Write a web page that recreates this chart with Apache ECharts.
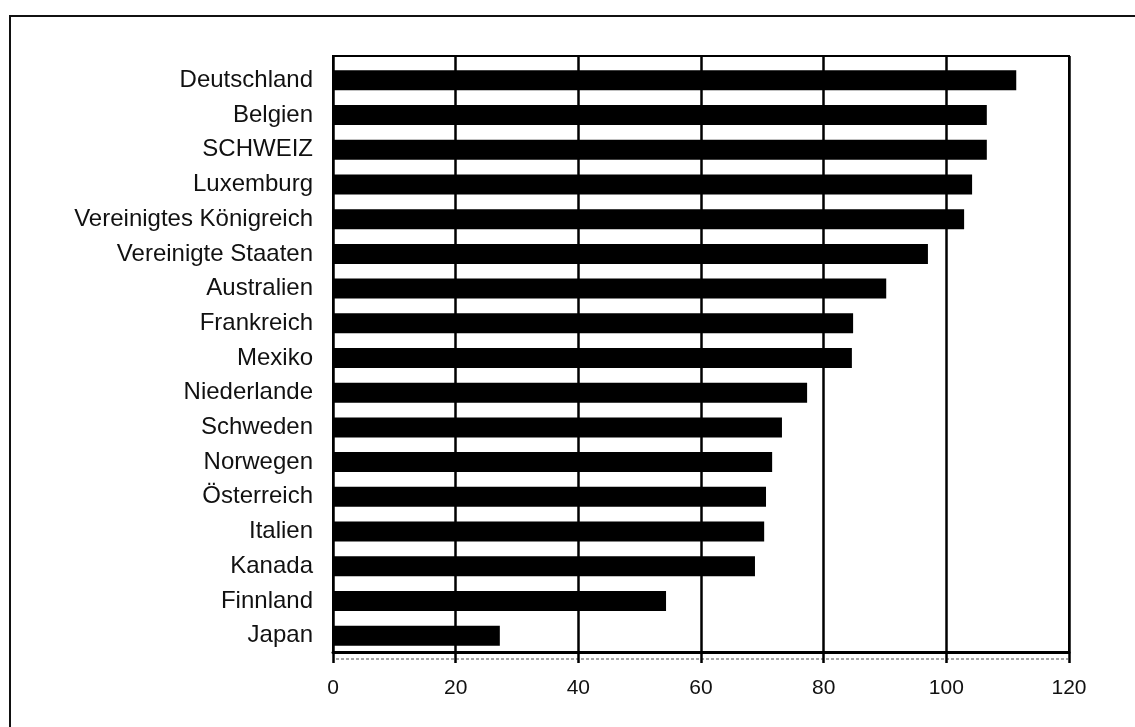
<!DOCTYPE html>
<html>
<head>
<meta charset="utf-8">
<script src="https://cdn.jsdelivr.net/npm/echarts@6/dist/echarts.min.js"></script>
<style>
  html, body { margin: 0; padding: 0; background: #fff; }
  #chart { width: 1135px; height: 727px; }
</style>
</head>
<body>
<div id="chart"></div>
<script>
// Countries, top to bottom
const categories = [
  'Deutschland', 'Belgien', 'SCHWEIZ', 'Luxemburg', 'Vereinigtes Königreich',
  'Vereinigte Staaten', 'Australien', 'Frankreich', 'Mexiko', 'Niederlande',
  'Schweden', 'Norwegen', 'Österreich', 'Italien', 'Kanada', 'Finnland', 'Japan'
];
// Index values per country
const values = [
  111.4, 106.6, 106.6, 104.2, 102.9,
  97.0, 90.2, 84.8, 84.6, 77.3,
  73.2, 71.6, 70.6, 70.3, 68.8, 54.3, 27.2
];
// Value axis range and tick step
const xMin = 0;
const xMax = 120;
const xStep = 20;

const FONT = '"Liberation Sans", Arial, sans-serif';

const chart = echarts.init(document.getElementById('chart'), null, { renderer: 'canvas' });

chart.setOption({
  animation: false,
  backgroundColor: '#ffffff',
  textStyle: { fontFamily: FONT },
  graphic: [
    // outer frame around the whole figure
    {
      type: 'rect',
      shape: { x: 10, y: 16, width: 1140, height: 800 },
      style: { fill: 'none', stroke: '#111', lineWidth: 2 },
      silent: true
    },
    // faint dotted rule just under the value axis
    {
      type: 'line',
      shape: { x1: 336, y1: 659, x2: 1068, y2: 659 },
      style: { stroke: '#8a8a8a', lineWidth: 1.5, lineDash: [3, 2] },
      silent: true
    }
  ],
  grid: [
    // plot frame with vertical grid lines
    { left: 333, right: 66, top: 56, bottom: 75, show: true, borderColor: '#000', borderWidth: 2 },
    // bar area
    { left: 333, right: 66, top: 63, bottom: 74 }
  ],
  xAxis: [
    {
      gridIndex: 0,
      type: 'value',
      min: xMin, max: xMax, interval: xStep,
      axisLine: { show: true, lineStyle: { color: '#000', width: 3 } },
      axisTick: { show: true, length: 11, lineStyle: { color: '#000', width: 2.5 } },
      splitLine: { show: true, lineStyle: { color: '#000', width: 2.5 } },
      axisLabel: { color: '#111', fontSize: 21, fontFamily: FONT, margin: 26 }
    },
    {
      gridIndex: 1,
      type: 'value',
      min: xMin, max: xMax,
      show: false
    }
  ],
  yAxis: [
    { gridIndex: 0, type: 'value', show: false },
    {
      gridIndex: 1,
      type: 'category',
      inverse: true,
      data: categories,
      axisLine: { show: false },
      axisTick: { show: false },
      splitLine: { show: false },
      axisLabel: { color: '#111', fontSize: 24, fontFamily: FONT, margin: 20 }
    }
  ],
  series: [
    {
      type: 'bar',
      xAxisIndex: 1,
      yAxisIndex: 1,
      data: values,
      barWidth: 20,
      itemStyle: { color: '#000' }
    }
  ]
});
</script>
</body>
</html>
